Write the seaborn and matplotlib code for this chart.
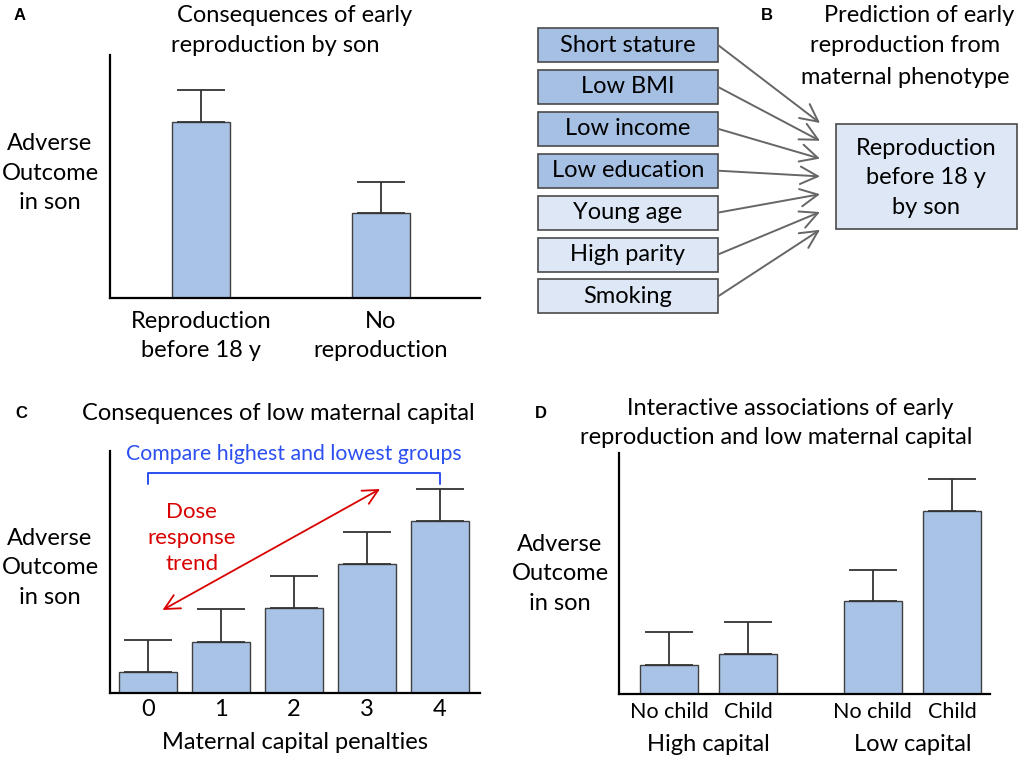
import matplotlib
matplotlib.use('Agg')
import matplotlib.pyplot as plt
from matplotlib.patches import Rectangle
from matplotlib.container import BarContainer
import seaborn as sns
import pandas as pd
import numpy as np


# Panel A: consequences of early reproduction by son
a_groups = ['Reproduction\nbefore 18 y', 'No\nreproduction']
a_values = [7.24, 3.5]
a_errors = [1.32, 1.28]

# Panel B: maternal predictors of early reproduction
b_factors = ['Short stature', 'Low BMI', 'Low income', 'Low education',
             'Young age', 'High parity', 'Smoking']
b_strong = [True, True, True, True, False, False, False]
b_outcome = 'Reproduction\nbefore 18 y\nby son'

# Panel C: dose response of maternal capital penalties
c_penalties = ['0', '1', '2', '3', '4']
c_values = [0.87, 2.1, 3.5, 5.33, 7.1]
c_errors = [1.32, 1.36, 1.32, 1.32, 1.32]

# Panel D: interaction of early reproduction and maternal capital
d_capital = ['High capital', 'High capital', 'Low capital', 'Low capital']
d_child = ['No child', 'Child', 'No child', 'Child']
d_values = [1.2, 1.66, 3.86, 7.6]
d_errors = [1.37, 1.33, 1.29, 1.33]


sns.set_theme(style='white')
plt.rcParams['font.family'] = ['Lato', 'DejaVu Sans']
plt.rcParams['text.color'] = 'black'
plt.rcParams['axes.labelcolor'] = 'black'
plt.rcParams['xtick.color'] = 'black'

W, H = 1021, 762
BAR = '#a9c3e6'
EDGE = '#404040'
FS = 17
LS = 1.5

fig = plt.figure(figsize=(W / 100, H / 100), dpi=100)
fig.patch.set_facecolor('white')


def fx(x):
    return x / W


def fy(y):
    return 1 - y / H


def make_axes(x0, y0, x1, y1):
    ax = fig.add_axes([fx(x0), fy(y1), fx(x1 - x0), (y1 - y0) / H])
    ax.set_facecolor('white')
    sns.despine(ax=ax)
    for s in ['left', 'bottom']:
        ax.spines[s].set_color('black')
        ax.spines[s].set_linewidth(1.6)
    ax.set_yticks([])
    ax.tick_params(length=0)
    ax.set_ylim(0, 10)
    ax.set_xlabel('')
    ax.set_ylabel('')
    return ax


def add_errors(ax, xs, ys, errs):
    ax.errorbar(xs, ys, yerr=[np.zeros(len(errs)), errs], fmt='none',
                ecolor='#333333', elinewidth=1.3, capsize=17.3, capthick=1.3,
                zorder=1)


def ylab(x, y):
    fig.text(fx(x), fy(y), 'Adverse\nOutcome\nin son', ha='center', va='center',
             fontsize=FS, linespacing=LS)


def title_lines(lines):
    # each title line sits at its own centre, as in the source figure
    for s, x, y in lines:
        fig.text(fx(x), fy(y), s, ha='center', va='center', fontsize=FS)


def letter(x, y, s):
    fig.text(fx(x), fy(y), s, ha='center', va='center', fontsize=12,
             fontweight='bold', family='Liberation Sans')


# ---- A ----
axA = make_axes(110, 55, 480, 298)
sns.barplot(x=a_groups, y=a_values, color=BAR, edgecolor=EDGE, linewidth=1.0,
            width=0.323, saturation=1, errorbar=None, ax=axA)
axA.set_xlim(-0.507, 1.554)
axA.set_ylim(0, 10)
add_errors(axA, [p.get_x() + p.get_width() / 2 for p in axA.patches], a_values, a_errors)
axA.tick_params(axis='x', labelsize=FS, pad=9)
for t in axA.get_xticklabels():
    t.set_linespacing(LS)
title_lines([('Consequences of early', 295, 15), ('reproduction by son', 275, 45)])
letter(20, 16, 'A')
ylab(50, 173)

# ---- B ----
axB = fig.add_axes([fx(500), fy(380), fx(521), 380 / H])
axB.set_xlim(500, 1021)
axB.set_ylim(380, 0)
axB.axis('off')
for i, (name, strong) in enumerate(zip(b_factors, b_strong)):
    top = 28 + 41.9 * i
    axB.add_patch(Rectangle((538, top), 180, 34, facecolor='#a6c0e4' if strong else '#dde7f5',
                            edgecolor='#4a4a4a', linewidth=1.2))
    axB.text(628, top + 17, name, ha='center', va='center', fontsize=FS)
    axB.annotate('', xy=(820, 123 + 17.8 * i), xytext=(718, top + 17),
                 arrowprops=dict(arrowstyle='->,head_length=0.7,head_width=0.35',
                                 color='#666666', lw=1.4, shrinkA=0, shrinkB=0,
                                 mutation_scale=18))
axB.add_patch(Rectangle((836, 124), 181, 105, facecolor='#dde7f5', edgecolor='#4a4a4a',
                        linewidth=1.2))
axB.text(926, 178, b_outcome, ha='center', va='center', fontsize=FS, linespacing=LS)
title_lines([('Prediction of early', 919, 15), ('reproduction from', 905, 45),
             ('maternal phenotype', 905, 77)])
letter(767, 16, 'B')

# ---- C ----
axC = make_axes(110, 451, 480, 693)
sns.barplot(x=c_penalties, y=c_values, color=BAR, edgecolor=EDGE, linewidth=1.0,
            width=0.795, saturation=1, errorbar=None, ax=axC)
axC.set_xlim(-0.52, 4.55)
axC.set_ylim(0, 10)
add_errors(axC, [p.get_x() + p.get_width() / 2 for p in axC.patches], c_values, c_errors)
axC.tick_params(axis='x', labelsize=FS, pad=4)
axC.set_xlabel('Maternal capital penalties', fontsize=FS, labelpad=9)
blue = '#2b4ff0'
red = '#d90000'
axC.plot([0, 0, 4, 4], [8.64, 9.09, 9.09, 8.64], color=blue, lw=1.4, clip_on=False)
axC.text(2, 9.88, 'Compare highest and lowest groups', color=blue, ha='center',
         va='center', fontsize=15.3)
axC.text(0.6, 6.4, 'Dose\nresponse\ntrend', color=red, ha='center', va='center',
         fontsize=16, linespacing=1.38)
axC.annotate('', xy=(3.18, 8.43), xytext=(0.2, 3.43),
             arrowprops=dict(arrowstyle='<->,head_length=0.6,head_width=0.3', color=red,
                             lw=1.3, shrinkA=0, shrinkB=0, mutation_scale=18))
title_lines([('Consequences of low maternal capital', 278, 414)])
letter(21, 414, 'C')
ylab(50, 568)

# ---- D ----
axD = make_axes(619, 453, 990, 694)
dfD = pd.DataFrame({'capital': d_capital, 'child': d_child, 'value': d_values,
                    'err': d_errors})
sns.barplot(data=dfD, x='capital', y='value', hue='child', palette=[BAR, BAR],
            edgecolor=EDGE, linewidth=1.0, width=0.78, gap=0.27, saturation=1,
            errorbar=None, legend=False, ax=axD)
axD.set_xlim(-0.441, 1.382)
axD.set_ylim(0, 10)
axD.set_xlabel('')
axD.set_ylabel('')
hue_levels = list(dict.fromkeys(d_child))
cap_levels = list(dict.fromkeys(d_capital))
bar_sets = [c for c in axD.containers if isinstance(c, BarContainer)]
for j, cont in enumerate(bar_sets):
    for i, p in enumerate(cont.patches):
        row = dfD[(dfD['child'] == hue_levels[j]) & (dfD['capital'] == cap_levels[i])].iloc[0]
        xc = p.get_x() + p.get_width() / 2
        add_errors(axD, [xc], [row['value']], [row['err']])
        axD.annotate(row['child'], xy=(xc, 0), xycoords=('data', 'axes fraction'),
                     xytext=(0, -18), textcoords='offset pixels', ha='center',
                     va='center', fontsize=FS - 1.5)
axD.tick_params(axis='x', labelsize=FS, pad=29)
title_lines([('Interactive associations of early', 790, 408),
             ('reproduction and low maternal capital', 776, 438)])
letter(541, 414, 'D')
ylab(560, 574)

fig.savefig('out.png', dpi=100, facecolor='white')
